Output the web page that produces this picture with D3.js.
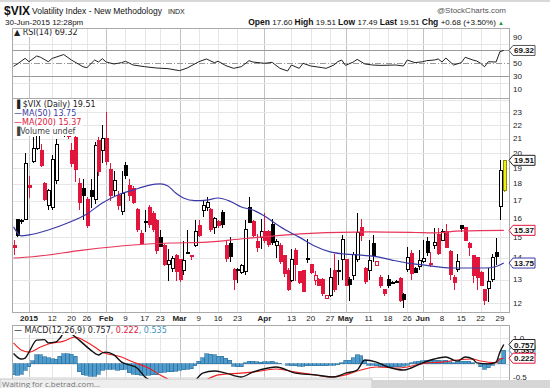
<!DOCTYPE html>
<html>
<head>
<meta charset="utf-8">
<script src="https://cdn.jsdelivr.net/npm/d3@7"></script>
<style>
  body { margin: 0; background: #fff; }
  svg { display: block; font-family: "Liberation Sans", Arial, sans-serif; }
</style>
</head>
<body>
<svg width="550" height="388"></svg>
<script>
// ---- data ----
const dates = [
  "12-26","12-29","12-30","12-31",
  "01-02","01-05","01-06","01-07","01-08","01-09","01-12","01-13","01-14","01-15","01-16","01-20","01-21","01-22","01-23","01-26","01-27","01-28","01-29","01-30",
  "02-02","02-03","02-04","02-05","02-06","02-09","02-10","02-11","02-12","02-13","02-17","02-18","02-19","02-20","02-23","02-24","02-25","02-26","02-27",
  "03-02","03-03","03-04","03-05","03-06","03-09","03-10","03-11","03-12","03-13","03-16","03-17","03-18","03-19","03-20","03-23","03-24","03-25","03-26","03-27","03-30","03-31",
  "04-01","04-02","04-06","04-07","04-08","04-09","04-10","04-13","04-14","04-15","04-16","04-17","04-20","04-21","04-22","04-23","04-24","04-27","04-28","04-29","04-30",
  "05-01","05-04","05-05","05-06","05-07","05-08","05-11","05-12","05-13","05-14","05-15","05-18","05-19","05-20","05-21","05-22","05-26","05-27","05-28","05-29",
  "06-01","06-02","06-03","06-04","06-05","06-08","06-09","06-10","06-11","06-12","06-15","06-16","06-17","06-18","06-19","06-22","06-23","06-24","06-25","06-26","06-29","06-30"
];

const open = [
  14.6, 15.95, 15.85, 15.95,
  17.9, 19.4, 20.3, 20.2, 18.0, 16.75, 16.6, 18.24, 22.6, 22.4, 22.2, 20.2, 21.1, 18.0, 17.7, 17.1, 17.6, 17.1, 20.9, 20.2,
  21.0, 18.9, 17.6, 17.33, 16.4, 19.2, 17.9, 17.7, 16.5, 15.2, 15.85, 16.6, 16.3, 15.9, 15.0, 14.6, 13.7, 13.5, 14.1,
  13.9, 13.4, 14.2, 14.1, 14.6, 15.65, 16.45, 16.6, 16.5, 15.5, 15.85, 16.35, 14.6, 14.7, 13.45, 13.42, 13.3, 13.35, 16.6, 15.85, 14.8, 15.0,
  15.3, 15.3, 15.7, 14.6, 14.6, 14.1, 13.4, 12.95, 14.35, 13.35, 13.4, 13.9, 13.66, 12.95, 13.0, 13.0, 12.2, 12.33, 13.4, 13.38, 13.9,
  13.9, 13.0, 13.2, 13.9, 15.5, 13.5, 13.4, 14.7, 13.65, 13.1, 12.55, 13.0, 12.86, 12.9, 13.05, 12.35, 13.45, 14.2, 13.5, 13.6,
  13.8, 14.8, 13.72, 14.6, 15.13, 14.87, 15.3, 14.3, 13.1, 13.43, 15.6, 15.5, 14.7, 14.1, 14.0, 13.3, 12.55, 12.6, 12.98, 14.25, 16.65, 17.60
];
const high = [
  14.87, 16.0, 15.95, 20.0,
  18.5, 21.1, 21.6, 20.6, 18.1, 17.7, 19.9, 21.0, 23.2, 22.7, 22.4, 20.7, 21.4, 18.4, 18.3, 17.2, 18.3, 20.8, 21.1, 22.0,
  23.0, 19.3, 18.8, 17.6, 18.8, 19.4, 18.3, 17.9, 16.6, 15.4, 16.5, 16.75, 16.4, 16.0, 15.4, 14.65, 14.4, 14.1, 14.2,
  13.95, 14.8, 15.4, 14.15, 15.9, 15.9, 17.0, 17.2, 16.6, 16.1, 15.9, 16.5, 14.8, 15.0, 13.5, 13.5, 13.7, 15.9, 17.2, 15.9, 15.2, 16.0,
  16.3, 15.4, 16.0, 14.9, 14.7, 14.15, 13.5, 14.4, 14.45, 13.4, 13.45, 14.9, 13.7, 13.4, 13.05, 13.05, 12.35, 13.5, 14.2, 13.9, 15.15,
  13.95, 13.1, 14.3, 16.3, 16.0, 13.55, 14.85, 15.15, 13.85, 13.2, 12.6, 13.2, 12.95, 13.0, 13.1, 12.4, 14.5, 14.35, 13.55, 14.35,
  14.85, 15.0, 14.3, 15.5, 15.5, 15.45, 15.7, 14.37, 13.2, 14.2, 15.65, 15.55, 14.75, 14.15, 14.05, 13.4, 12.6, 13.5, 14.2, 14.95, 19.5, 19.51
];
const low = [
  14.13, 15.0, 15.7, 15.9,
  17.15, 19.3, 20.2, 19.1, 17.0, 16.5, 16.5, 18.0, 21.6, 21.1, 21.0, 19.1, 18.1, 16.5, 15.9, 15.5, 16.6, 16.8, 18.5, 19.3,
  19.2, 17.0, 17.3, 16.5, 16.2, 18.3, 17.0, 16.8, 15.3, 14.6, 15.3, 15.5, 15.3, 14.2, 14.5, 13.6, 12.95, 13.35, 12.95,
  12.9, 13.2, 14.2, 13.9, 14.5, 15.0, 16.1, 16.4, 15.3, 15.2, 15.5, 15.5, 13.8, 13.8, 12.55, 12.85, 13.25, 13.2, 15.75, 15.0, 14.3, 14.4,
  14.7, 14.5, 14.6, 14.0, 13.7, 13.1, 12.5, 12.9, 12.95, 12.8, 12.45, 13.75, 13.25, 12.75, 12.7, 12.3, 12.15, 12.25, 12.45, 12.75, 13.0,
  12.7, 12.1, 13.0, 13.8, 14.8, 12.8, 12.98, 13.8, 13.6, 12.65, 12.3, 12.65, 12.8, 12.85, 12.05, 11.8, 13.35, 13.0, 13.3, 13.45,
  13.75, 14.1, 13.55, 14.4, 14.13, 14.8, 14.45, 12.98, 12.54, 13.35, 15.3, 14.8, 14.1, 12.85, 12.54, 12.7, 11.92, 12.05, 12.9, 13.66, 15.92, 17.49
];
const close = [
  14.5, 15.1, 15.92, 19.3,
  17.79, 20.3, 21.27, 19.2, 17.1, 17.63, 19.55, 20.56, 21.6, 21.7, 21.15, 19.33, 18.9, 16.9, 17.3, 15.6, 17.25, 20.5, 18.76, 21.05,
  19.4, 17.3, 18.2, 16.75, 17.4, 18.55, 17.3, 16.9, 15.4, 14.7, 15.8, 15.7, 15.4, 14.35, 14.55, 13.7, 13.85, 13.95, 13.35,
  13.0, 13.88, 14.25, 14.05, 15.3, 15.1, 16.75, 16.9, 15.42, 16.0, 15.6, 15.66, 13.97, 14.05, 13.0, 13.44, 13.62, 15.4, 15.8, 15.1, 14.5, 15.3,
  14.85, 14.67, 14.75, 14.8, 13.8, 13.25, 12.55, 13.9, 13.66, 12.85, 12.5, 13.95, 13.3, 13.2, 12.75, 12.4, 12.3, 13.1, 12.55, 13.4, 14.9,
  12.75, 12.8, 14.15, 15.25, 15.1, 12.9, 13.85, 14.1, 13.8, 12.75, 12.38, 12.73, 12.88, 12.92, 12.12, 12.15, 14.0, 13.27, 13.32, 13.88,
  13.98, 14.24, 13.66, 14.75, 14.2, 15.29, 14.5, 13.22, 12.85, 13.8, 15.45, 14.85, 14.5, 13.2, 13.1, 12.74, 12.11, 12.9, 14.01, 14.05, 18.83, 19.51
];

// moving averages (read at points along the curves)
const ma50 = [
  ["12-26",15.55],["12-30",15.08],["01-02",15.13],["01-09",15.39],["01-16",15.76],["01-26",16.25],["01-30",16.87],
  ["02-05",17.34],["02-11",17.63],["02-18",17.91],["02-23",18.0],["02-25",17.88],["02-27",17.45],["03-03",17.16],
  ["03-06",17.01],["03-11",17.04],["03-16",17.16],["03-19",16.98],["03-24",16.64],["03-27",16.47],["04-01",16.14],
  ["04-07",15.71],["04-10",15.33],["04-15",15.02],["04-21",14.57],["04-27",14.28],["05-01",14.17],["05-07",14.13],
  ["05-13",14.05],["05-19",13.89],["05-26",13.75],["06-01",13.66],["06-05",13.57],["06-11",13.52],["06-17",13.52],
  ["06-23",13.52],["06-26",13.59],["06-30",13.75]
];
const ma200 = [
  ["12-26",13.99],["01-05",14.05],["01-23",14.37],["02-11",14.62],["02-26",14.72],["03-10",14.75],["03-25",14.95],
  ["04-20",15.21],["05-11",15.29],["05-28",15.26],["06-04",15.24],["06-15",15.34],["06-30",15.37]
];

const rsi = [
  ["12-26",44.9],["12-29",48.5],["12-31",57.2],["01-02",52],["01-06",60.8],["01-07",58.8],["01-09",52],["01-12",57],
  ["01-15",63],["01-20",54.6],["01-23",44.3],["01-26",42.8],["01-28",54.6],["01-29",51.5],["01-30",56.6],["02-02",51.5],
  ["02-04",48.5],["02-06",50.5],["02-09",52.6],["02-11",46.9],["02-17",44.3],["02-20",42.3],["02-25",41.3],["03-02",38.2],
  ["03-04",42.3],["03-09",52],["03-11",56.2],["03-13",50.5],["03-16",52.6],["03-18",45.9],["03-20",41.8],["03-24",44.3],
  ["03-26",53.6],["03-27",51.5],["04-01",49.5],["04-06",51],["04-08",41.8],["04-10",37.7],["04-13",46.9],["04-15",41.8],
  ["04-16",49.5],["04-20",45.4],["04-23",42.8],["04-24",41.8],["04-28",46.9],["04-29",52],["04-30",54.6],["05-01",46.3],
  ["05-05",51.5],["05-06",55.6],["05-08",48.5],["05-12",46.9],["05-14",46.3],["05-20",46.9],["05-22",45.4],["05-26",54.6],
  ["05-28",50.5],["06-01",52],["06-02",53.6],["06-04",54.6],["06-05",56.2],["06-08",51.5],["06-09",57.7],["06-11",46.9],
  ["06-15",50.5],["06-16",58.8],["06-18",54.6],["06-19",53],["06-22",49.5],["06-23",44.3],["06-24",52],["06-26",51.5],
  ["06-29",67.5],["06-30",69.32]
];

const macd = [
  ["12-26",0.41],["12-30",0.19],["12-31",0.23],["01-02",0.46],["01-06",0.93],["01-08",0.95],["01-09",0.82],["01-13",0.86],
  ["01-14",1.0],["01-15",1.2],["01-16",1.22],["01-20",1.18],["01-21",1.05],["01-22",0.93],["01-27",0.54],["01-29",0.35],
  ["01-30",0.43],["02-02",0.46],["02-04",0.35],["02-06",0.07],["02-10",-0.04],["02-12",-0.16],["02-17",-0.5],["02-23",-0.8],
  ["03-02",-1.0],["03-05",-0.85],["03-10",-0.36],["03-13",-0.28],["03-18",-0.36],["03-24",-0.51],["03-27",-0.32],
  ["04-02",-0.16],["04-07",-0.12],["04-14",-0.36],["04-21",-0.43],["04-28",-0.51],["05-01",-0.36],["05-06",-0.24],
  ["05-08",0.15],["05-13",0.07],["05-18",-0.12],["05-22",-0.24],["05-27",-0.16],["06-01",0.04],["06-04",0.19],
  ["06-09",0.27],["06-11",0.15],["06-12",0.11],["06-16",0.27],["06-18",0.19],["06-19",0.04],["06-24",0.0],
  ["06-26",0.07],["06-29",0.46],["06-30",0.757]
];
const signal = [
  ["12-26",0.82],["12-30",0.54],["01-02",0.46],["01-07",0.66],["01-09",0.78],["01-15",0.89],["01-21",1.05],["01-23",0.93],
  ["01-28",0.66],["01-30",0.46],["02-06",0.27],["02-11",0.07],["02-18",-0.16],["02-23",-0.43],["03-02",-0.75],
  ["03-09",-0.72],["03-16",-0.43],["03-24",-0.36],["03-27",-0.32],["04-07",-0.2],["04-14",-0.32],["04-21",-0.43],
  ["04-27",-0.51],["05-01",-0.43],["05-07",-0.24],["05-13",-0.12],["05-21",-0.16],["05-26",-0.12],["06-02",0.04],
  ["06-08",0.07],["06-12",0.15],["06-18",0.19],["06-22",0.11],["06-26",0.04],["06-29",0.19],["06-30",0.222]
];
const histogram = [
  -0.42, -0.45, -0.40, -0.25,
  -0.12, 0.12, 0.35, 0.35, 0.27, 0.25, 0.2, 0.18, 0.3, 0.4, 0.4, 0.38, 0.3, -0.3, -0.42, -0.45, -0.48, -0.48, -0.4, -0.25,
  -0.2, -0.2, -0.2, -0.25, -0.22, -0.2, -0.35, -0.4, -0.42, -0.45, -0.45, -0.45, -0.42, -0.42, -0.35, -0.32, -0.3, -0.3, -0.28,
  -0.25, -0.22, -0.2, -0.18, -0.08, 0.1, 0.25, 0.4, 0.38, 0.35, 0.3, 0.3, 0.22, 0.15, -0.1, -0.12, -0.12, 0.05, 0.1, 0.1, 0.08, 0.07,
  0.08, 0.08, 0.1, 0.05, 0.02, 0.0, -0.05, -0.08, -0.08, -0.1, -0.1, -0.08, -0.08, -0.08, -0.08, -0.08, -0.08, -0.06, -0.06, -0.04, 0.05,
  0.15, 0.15, 0.25, 0.35, 0.32, 0.15, -0.05, -0.05, -0.08, -0.12, -0.12, -0.12, -0.12, -0.12, -0.12, -0.1, -0.05, 0.05, 0.08, 0.1,
  0.12, 0.15, 0.15, 0.15, 0.15, 0.12, 0.15, 0.08, 0.05, 0.08, 0.1, 0.1, 0.1, 0.05, 0.0, -0.12, -0.2, -0.15, -0.05, 0.0, 0.2, 0.535
];

// date ticks: [date, label, month start?]
const dateTicks = [
  ["01-02","2015",true],["01-12","12",false],["01-20","20",false],["01-26","26",false],
  ["02-02","Feb",true],["02-09","9",false],["02-17","17",false],["02-23","23",false],
  ["03-02","Mar",true],["03-09","9",false],["03-16","16",false],["03-23","23",false],
  ["04-01","Apr",true],["04-13","13",false],["04-20","20",false],["04-27","27",false],
  ["05-01","May",true],["05-11","11",false],["05-18","18",false],["05-26","26",false],
  ["06-01","Jun",true],["06-08","8",false],["06-15","15",false],["06-22","22",false],["06-29","29",false]
];
const priceTicks = [12, 13, 14, 15, 16, 17, 18, 19, 20, 21, 22, 23];
const rsiTicks = [90, 50, 30, 10];
const macdTicks = [1.0, 0.5, 0.0, -0.5];
const macdLabels = [1.0, -0.5];   // the other labels sit under the value tags

// ---- layout ----
const svg = d3.select('svg');
const width = +svg.attr('width');
const height = +svg.attr('height');

const left = 12, right = 509;
const rsiTop = 28, rsiBottom = 98;
const mainTop = 98, mainBottom = 312;
const macdTop = 325, macdBottom = 388;

const legendFont = '"DejaVu Sans", Verdana, sans-serif';
const red = '#e2163c';

const x = d3.scaleLinear().domain([-0.4, dates.length + 0.35]).range([left, right]);
const xd = d => x(dates.indexOf(d));
const y = d3.scaleLog().domain([12, 23]).range([303, 112]);
const yRsi = d3.scaleLinear().domain([0, 100]).range([95.5, 30.5]);
const yMacd = d3.scaleLinear().domain([0, 1]).range([363.9, 338.3]);

svg.append('rect').attr('width', width).attr('height', height).attr('fill', '#fff');

// vertical grid in every panel
const vGrid = (y1, y2) => {
  svg.append('g')
    .selectAll('line')
    .data(dateTicks)
    .join('line')
    .attr('x1', d => Math.round(xd(d[0])) + 0.5)
    .attr('x2', d => Math.round(xd(d[0])) + 0.5)
    .attr('y1', y1).attr('y2', y2)
    .attr('stroke', d => d[2] ? '#c2c2c2' : '#e6e6e6');
};
vGrid(rsiTop, rsiBottom);
vGrid(mainTop, mainBottom);
vGrid(macdTop, macdBottom);

// ---- RSI panel ----
svg.append('g').selectAll('line')
  .data([80, 20])
  .join('line')
  .attr('x1', left).attr('x2', right)
  .attr('y1', d => Math.round(yRsi(d)) + 0.5).attr('y2', d => Math.round(yRsi(d)) + 0.5)
  .attr('stroke', '#e6e6e6');
svg.append('g').selectAll('line')
  .data([70, 30])
  .join('line')
  .attr('x1', left).attr('x2', right)
  .attr('y1', d => Math.round(yRsi(d)) + 0.5).attr('y2', d => Math.round(yRsi(d)) + 0.5)
  .attr('stroke', '#9a9a9a').attr('stroke-width', 1.2);
svg.append('line')
  .attr('x1', left).attr('x2', right)
  .attr('y1', Math.round(yRsi(50)) + 0.5).attr('y2', Math.round(yRsi(50)) + 0.5)
  .attr('stroke', '#9a9a9a').attr('stroke-dasharray', '6,2,1,2');

svg.append('path')
  .datum(rsi)
  .attr('fill', 'none')
  .attr('stroke', '#222')
  .attr('stroke-width', 1)
  .attr('d', d3.line().x(d => xd(d[0])).y(d => yRsi(d[1])));

// ---- price panel ----
svg.append('g').selectAll('line')
  .data(priceTicks.concat([24]))
  .join('line')
  .attr('x1', left).attr('x2', right)
  .attr('y1', d => Math.round(y(d)) + 0.5).attr('y2', d => Math.round(y(d)) + 0.5)
  .attr('stroke', '#e6e6e6');

const ohlc = dates.map((d, i) => ({
  d, o: open[i], h: high[i], l: low[i], c: close[i],
  prev: i > 0 ? close[i - 1] : open[i],
  last: i === dates.length - 1
}));
const candleColor = d => d.last ? '#8d8d10' : (d.c < d.prev ? red : '#000');

const candles = svg.append('g').attr('shape-rendering', 'crispEdges');
candles.selectAll('line')
  .data(ohlc)
  .join('line')
  .attr('x1', d => Math.round(xd(d.d)) + 0.5)
  .attr('x2', d => Math.round(xd(d.d)) + 0.5)
  .attr('y1', d => y(d.h)).attr('y2', d => y(d.l))
  .attr('stroke', candleColor);
candles.selectAll('rect')
  .data(ohlc)
  .join('rect')
  .attr('x', d => Math.round(xd(d.d)) - 1)
  .attr('y', d => y(Math.max(d.o, d.c)))
  .attr('width', 3)
  .attr('height', d => Math.max(1, Math.abs(y(d.o) - y(d.c))))
  .attr('fill', d => d.last ? '#f2ee10' : (d.c < d.o ? candleColor(d) : '#fff'))
  .attr('stroke', candleColor);

const maLine = d3.line().x(d => xd(d[0])).y(d => y(d[1])).curve(d3.curveMonotoneX);
svg.append('path').datum(ma200)
  .attr('fill', 'none').attr('stroke', '#e8365a').attr('stroke-width', 1.1)
  .attr('d', maLine);
svg.append('path').datum(ma50)
  .attr('fill', 'none').attr('stroke', '#3a3aa6').attr('stroke-width', 1.2)
  .attr('d', maLine);

// legend of price panel, each line on a white box
const legend = (lx, ly, parts) => {
  const g = svg.append('g');
  const bg = g.append('rect').attr('fill', '#fff');
  const t = g.append('text').attr('x', lx).attr('y', ly)
    .attr('font-family', legendFont).attr('font-size', 8);
  parts.forEach(p => t.append('tspan').attr('fill', p[1]).text(p[0]));
  const b = t.node().getBBox();
  bg.attr('x', b.x - 1).attr('y', b.y).attr('width', b.width + 2).attr('height', b.height);
};
legend(14, 107, [['\u2590 $VIX (Daily) 19.51', '#222']]);
legend(14, 116, [['\u2014MA(50) 13.75', '#3a3aa6']]);
legend(14, 125, [['\u2014MA(200) 15.37', '#e2163c']]);
legend(14, 134, [['\u2590Volume undef', '#444']]);
legend(14, 35, [['\u25b2 RSI(14) 69.32', '#222']]);

// ---- MACD panel ----
svg.append('clipPath').attr('id', 'macd-clip')
  .append('rect').attr('x', left).attr('y', macdTop).attr('width', right - left).attr('height', macdBottom - macdTop);
const macdG = svg.append('g').attr('clip-path', 'url(#macd-clip)');
macdG.selectAll('line')
  .data(macdTicks)
  .join('line')
  .attr('x1', left).attr('x2', right)
  .attr('y1', d => Math.round(yMacd(d)) + 0.5).attr('y2', d => Math.round(yMacd(d)) + 0.5)
  .attr('stroke', '#e6e6e6');
const step = x(1) - x(0);
macdG.append('g').attr('shape-rendering', 'crispEdges')
  .selectAll('rect')
  .data(histogram)
  .join('rect')
  .attr('x', (d, i) => x(i) - step / 2)
  .attr('width', step)
  .attr('y', d => Math.min(yMacd(d), yMacd(0)))
  .attr('height', d => Math.abs(yMacd(d) - yMacd(0)))
  .attr('fill', '#4f9bcc')
  .attr('stroke', '#2c6f9e')
  .attr('stroke-width', 0.6);
const macdLine = d3.line().x(d => xd(d[0])).y(d => yMacd(d[1])).curve(d3.curveMonotoneX);
macdG.append('path').datum(signal)
  .attr('fill', 'none').attr('stroke', '#f02020').attr('stroke-width', 1.1).attr('d', macdLine);
macdG.append('path').datum(macd)
  .attr('fill', 'none').attr('stroke', '#111').attr('stroke-width', 1.4).attr('d', macdLine);
legend(14, 333, [['\u2014 MACD(12,26,9) 0.757', '#222'], [', 0.222', '#e2163c'], [', 0.535', '#3d8fc4']]);

// ---- panel borders ----
[[rsiTop, rsiBottom], [mainTop, mainBottom], [macdTop, macdBottom + 2]].forEach(p => {
  svg.append('rect')
    .attr('x', left + 0.5).attr('y', p[0] + 0.5)
    .attr('width', right - left).attr('height', p[1] - p[0])
    .attr('fill', 'none').attr('stroke', '#aaa');
});

// ---- axes labels ----
const axisText = (sel) => sel.attr('font-size', 8).attr('fill', '#222');
svg.append('g').selectAll('text')
  .data(priceTicks)
  .join('text')
  .attr('x', right + 4).attr('y', d => y(d) + 2.5)
  .call(axisText)
  .text(d => d);
svg.append('g').selectAll('text')
  .data(rsiTicks)
  .join('text')
  .attr('x', right + 4).attr('y', d => yRsi(d) + 3)
  .call(axisText)
  .text(d => d);
svg.append('g').selectAll('text')
  .data(macdLabels)
  .join('text')
  .attr('x', right + 4).attr('y', d => yMacd(d) + 3)
  .call(axisText)
  .text(d => d.toFixed(1));
svg.append('g').selectAll('text')
  .data(dateTicks)
  .join('text')
  .attr('x', d => xd(d[0])).attr('y', 321)
  .attr('text-anchor', 'middle')
  .attr('font-size', 8)
  .attr('font-weight', d => d[2] ? 'bold' : 'normal')
  .attr('fill', '#222')
  .text(d => d[1]);

// value tags on the right edge
const tag = (ty, label, color) => {
  const g = svg.append('g').attr('transform', `translate(${right},${ty})`);
  g.append('path').attr('d', 'M0,0 L4,-5 L26,-5 L26,5 L4,5 Z')
    .attr('fill', '#fff').attr('stroke', color);
  g.append('text').attr('x', 15).attr('y', 3).attr('text-anchor', 'middle')
    .attr('font-size', 8).attr('font-weight', 'bold').attr('fill', '#111').text(label);
};
tag(y(19.51), '19.51', '#222');
tag(y(15.37), '15.37', '#e2163c');
tag(y(13.75), '13.75', '#3a3aa6');
tag(yRsi(69.32), '69.32', '#555');
tag(yMacd(0.535), '0.535', '#3d8fc4');
tag(yMacd(0.757), '0.757', '#222');
tag(yMacd(0.222), '0.222', '#e2163c');

// ---- header ----
svg.append('rect').attr('width', width).attr('height', 2).attr('fill', '#d8d8d8');
svg.append('text').attr('x', 4).attr('y', 15)
  .attr('font-size', 12).attr('font-weight', 'bold').attr('fill', '#111').text('$VIX');
svg.append('text').attr('x', 32).attr('y', 14)
  .attr('font-size', 8.5).attr('fill', '#111').text('Volatility Index - New Methodology');
svg.append('text').attr('x', 168).attr('y', 14)
  .attr('font-size', 7).attr('fill', '#111').text('INDX');
svg.append('text').attr('x', 506).attr('y', 13).attr('text-anchor', 'end')
  .attr('font-size', 8).attr('fill', '#555').text('@StockCharts.com');
svg.append('text').attr('x', 5).attr('y', 25)
  .attr('font-size', 8).attr('fill', '#111').text('30-Jun-2015 12:28pm');

const quote = svg.append('text').attr('x', 504).attr('y', 25).attr('text-anchor', 'end')
  .attr('font-size', 8).attr('fill', '#111');
[['Open ', true], ['17.60  ', false], ['High ', true], ['19.51  ', false], ['Low ', true], ['17.49  ', false],
 ['Last ', true], ['19.51  ', false], ['Chg ', true], ['+0.68 (+3.50%) ', false]].forEach(p => {
  quote.append('tspan').attr('font-weight', p[1] ? 'bold' : 'normal')
    .attr('font-size', p[1] ? 8.5 : 8).text(p[0]);
});
quote.append('tspan').attr('fill', '#1a9a1a').attr('font-size', 6).text('\u25b2');

// ---- browser status bar ----
svg.append('rect').attr('x', 0).attr('y', 379).attr('width', 372).attr('height', 10)
  .attr('fill', '#eeeeee').attr('stroke', '#c8c8c8');
svg.append('rect').attr('x', 372).attr('y', 380).attr('width', 178).attr('height', 8)
  .attr('fill', '#d6d6d6');
svg.append('text').attr('x', 2).attr('y', 386.5)
  .attr('font-family', '"Open Sans", sans-serif').attr('font-size', 8).attr('fill', '#777')
  .text('Waiting for c.betrad.com...');
</script>
</body>
</html>
